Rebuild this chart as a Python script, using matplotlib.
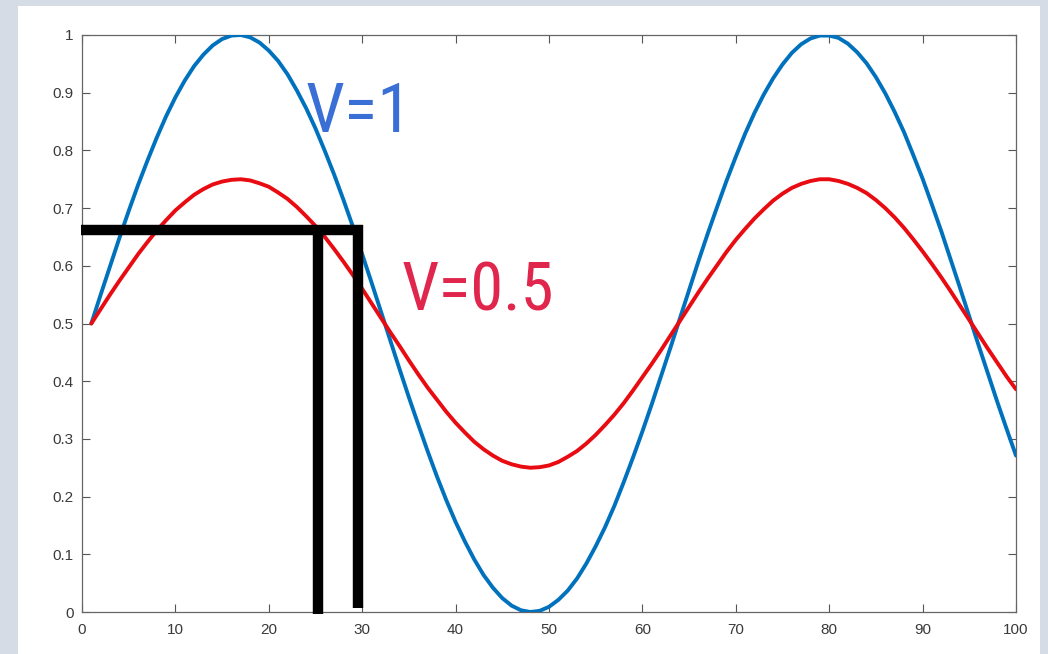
import matplotlib
matplotlib.use('Agg')
import matplotlib.pyplot as plt
from matplotlib.patches import Rectangle

# sample positions and the two response curves (V=1 and V=0.5)
x = list(range(1, 101))
v1 = [0.500, 0.550, 0.599, 0.648, 0.695, 0.740, 0.782, 0.822, 0.859, 0.892,
      0.921, 0.946, 0.966, 0.982, 0.993, 0.999, 1.000, 0.996, 0.987, 0.973,
      0.955, 0.932, 0.904, 0.873, 0.838, 0.799, 0.758, 0.714, 0.668, 0.620,
      0.571, 0.521, 0.471, 0.421, 0.372, 0.325, 0.279, 0.235, 0.194, 0.156,
      0.122, 0.091, 0.064, 0.042, 0.024, 0.011, 0.003, 0.000, 0.002, 0.009,
      0.021, 0.037, 0.058, 0.084, 0.114, 0.147, 0.184, 0.225, 0.268, 0.313,
      0.360, 0.409, 0.458, 0.508, 0.558, 0.608, 0.656, 0.702, 0.747, 0.789,
      0.829, 0.865, 0.897, 0.925, 0.949, 0.969, 0.984, 0.994, 0.999, 0.999,
      0.995, 0.985, 0.970, 0.951, 0.927, 0.899, 0.867, 0.832, 0.792, 0.751,
      0.706, 0.660, 0.611, 0.562, 0.512, 0.462, 0.413, 0.364, 0.317, 0.271]
v05 = [0.500, 0.525, 0.550, 0.574, 0.597, 0.620, 0.641, 0.661, 0.679, 0.696,
       0.710, 0.723, 0.733, 0.741, 0.746, 0.749, 0.750, 0.748, 0.743, 0.737,
       0.727, 0.716, 0.702, 0.686, 0.669, 0.650, 0.629, 0.607, 0.584, 0.560,
       0.535, 0.510, 0.485, 0.461, 0.436, 0.412, 0.389, 0.368, 0.347, 0.328,
       0.311, 0.295, 0.282, 0.271, 0.262, 0.256, 0.252, 0.250, 0.251, 0.254,
       0.260, 0.269, 0.279, 0.292, 0.307, 0.324, 0.342, 0.362, 0.384, 0.407,
       0.430, 0.454, 0.479, 0.504, 0.529, 0.554, 0.578, 0.601, 0.624, 0.645,
       0.664, 0.682, 0.698, 0.713, 0.725, 0.735, 0.742, 0.747, 0.750, 0.750,
       0.747, 0.742, 0.735, 0.726, 0.714, 0.700, 0.684, 0.666, 0.646, 0.625,
       0.603, 0.580, 0.556, 0.531, 0.506, 0.481, 0.456, 0.432, 0.408, 0.386]

# hand-drawn marker lines: level and the two crossing positions
level_y = 0.662
cross_x = [25.3, 29.6]
cross_bottom = [-0.003, 0.007]

x_ticks = list(range(0, 101, 10))
y_ticks = [0, 0.1, 0.2, 0.3, 0.4, 0.5, 0.6, 0.7, 0.8, 0.9, 1]
y_labels = ['0', '0.1', '0.2', '0.3', '0.4', '0.5', '0.6', '0.7', '0.8', '0.9', '1']

fig = plt.figure(figsize=(10.48, 6.54), dpi=100, facecolor='#d5dce5')
# white panel behind the plot
fig.patches.append(Rectangle((18 / 1048, 0), (1040 - 18) / 1048, (654 - 6) / 654,
                             transform=fig.transFigure, facecolor='white',
                             edgecolor='none', zorder=-10))

ax = fig.add_axes([82 / 1048, (654 - 612) / 654, (1016 - 82) / 1048, (612 - 35) / 654])
ax.set_facecolor('white')

ax.plot(x, v1, color='#0072bd', lw=2.8, solid_capstyle='round', zorder=3)
ax.plot(x, v05, color='#e80c12', lw=2.8, solid_capstyle='round', zorder=3)

black = dict(color='black', lw=7.5, solid_capstyle='butt', clip_on=False, zorder=4)
ax.plot([-0.1, cross_x[1] + 0.45], [level_y, level_y], **black)
for cx, cb in zip(cross_x, cross_bottom):
    ax.plot([cx, cx], [level_y + 0.008, cb], **black)

# narrow lettering for the two curve tags
narrow = ['Roboto Condensed', 'DejaVu Sans']
ax.text(29.66, 0.864, 'V=1', color='#3a6fd6', fontsize=50, family=narrow,
        fontstretch='condensed', ha='center', va='center', zorder=5)
ax.text(42.4, 0.553, 'V=0.5', color='#e0264d', fontsize=48, family=narrow,
        fontstretch='condensed', ha='center', va='center', zorder=5)

ax.set_xlim(0, 100)
ax.set_ylim(0, 1)
ax.set_xticks(x_ticks)
ax.set_yticks(y_ticks)
ax.set_yticklabels(y_labels)
ax.tick_params(direction='in', length=6, width=0.8, colors='#555555',
               labelcolor='#3a3a3a', labelsize=11, top=True, right=True, pad=6)
ax.tick_params(axis='x', pad=8)
for lab in ax.get_xticklabels() + ax.get_yticklabels():
    lab.set_family('Liberation Sans')
for sp in ax.spines.values():
    sp.set_color('#666666')
    sp.set_linewidth(0.9)

fig.savefig('out.png', dpi=100, facecolor=fig.get_facecolor())
